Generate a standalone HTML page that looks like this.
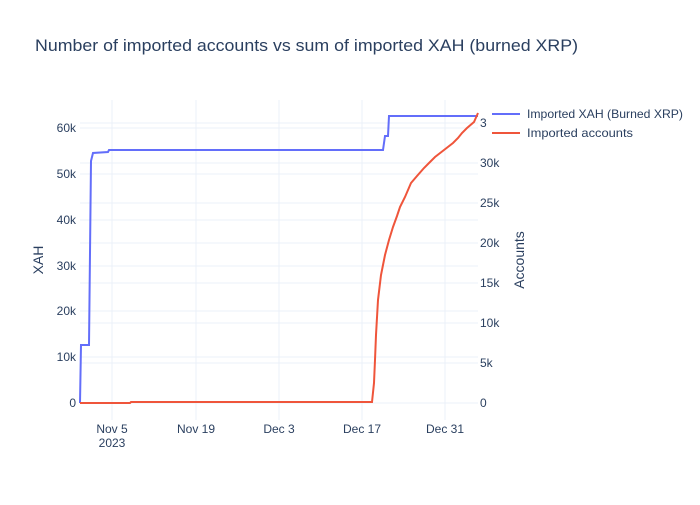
<!DOCTYPE html>
<html><head><style>
body{margin:0;background:#fff;}
svg text{font-family:"Liberation Sans",sans-serif;fill:#2a3f5f;}
</style></head><body>
<svg width="700" height="500" xmlns="http://www.w3.org/2000/svg">
<rect width="700" height="500" fill="#fff"/>
<text x="35" y="51" font-size="17" textLength="543" lengthAdjust="spacingAndGlyphs">Number of imported accounts vs sum of imported XAH (burned XRP)</text>
<g stroke="#ebf0f8" stroke-width="1">
<line x1="112" y1="100" x2="112" y2="420"/><line x1="196" y1="100" x2="196" y2="420"/>
<line x1="279" y1="100" x2="279" y2="420"/><line x1="362" y1="100" x2="362" y2="420"/>
<line x1="445" y1="100" x2="445" y2="420"/>
<line x1="80" y1="357" x2="478" y2="357"/><line x1="80" y1="311" x2="478" y2="311"/>
<line x1="80" y1="266" x2="478" y2="266"/><line x1="80" y1="220" x2="478" y2="220"/>
<line x1="80" y1="174" x2="478" y2="174"/><line x1="80" y1="128" x2="478" y2="128"/>
<line x1="80" y1="363" x2="478" y2="363"/><line x1="80" y1="323" x2="478" y2="323"/>
<line x1="80" y1="283" x2="478" y2="283"/><line x1="80" y1="243" x2="478" y2="243"/>
<line x1="80" y1="203" x2="478" y2="203"/><line x1="80" y1="163" x2="478" y2="163"/>
<line x1="80" y1="123" x2="478" y2="123"/>
<line x1="80" y1="403" x2="478" y2="403"/>
</g>
<g font-size="12" text-anchor="end">
<text x="76" y="407">0</text><text x="76" y="361">10k</text><text x="76" y="315">20k</text>
<text x="76" y="270">30k</text><text x="76" y="224">40k</text><text x="76" y="178">50k</text><text x="76" y="132">60k</text>
</g>
<g font-size="12">
<text x="480" y="407">0</text><text x="480" y="367">5k</text><text x="480" y="327">10k</text>
<text x="480" y="287">15k</text><text x="480" y="247">20k</text><text x="480" y="207">25k</text>
<text x="480" y="167">30k</text><text x="480" y="127">3</text>
</g>
<g font-size="12" text-anchor="middle">
<text x="112" y="433">Nov 5</text><text x="112" y="447">2023</text>
<text x="196" y="433">Nov 19</text><text x="279" y="433">Dec 3</text>
<text x="362" y="433">Dec 17</text><text x="445" y="433">Dec 31</text>
</g>
<text font-size="14" transform="translate(43,260) rotate(-90)" text-anchor="middle">XAH</text>
<text font-size="14" transform="translate(524,260) rotate(-90)" text-anchor="middle">Accounts</text>
<polyline fill="none" stroke="#636efa" stroke-width="2" points="80,403 81,345 89,345 91,161 93,153 108,152 109,150 383,150 385,136 388,136 389,116 478,116"/>
<polyline fill="none" stroke="#ef553b" stroke-width="2" points="80,403 130,403 131,402 372,402 374,383 375,360 376,335 378,300 381,275 385,255 389,240 393,227 397,216 400,207 405,197 411,183 417,176 424,168 430,162 435,157 444,150 453,143 458,138 462,133 467,128 474,122 478,113"/>
<line x1="492" y1="114" x2="520" y2="114" stroke="#636efa" stroke-width="2"/>
<text x="527" y="118" font-size="12" textLength="156" lengthAdjust="spacingAndGlyphs">Imported XAH (Burned XRP)</text>
<line x1="492" y1="133" x2="520" y2="133" stroke="#ef553b" stroke-width="2"/>
<text x="527" y="137" font-size="12" textLength="106" lengthAdjust="spacingAndGlyphs">Imported accounts</text>
</svg>
</body></html>
